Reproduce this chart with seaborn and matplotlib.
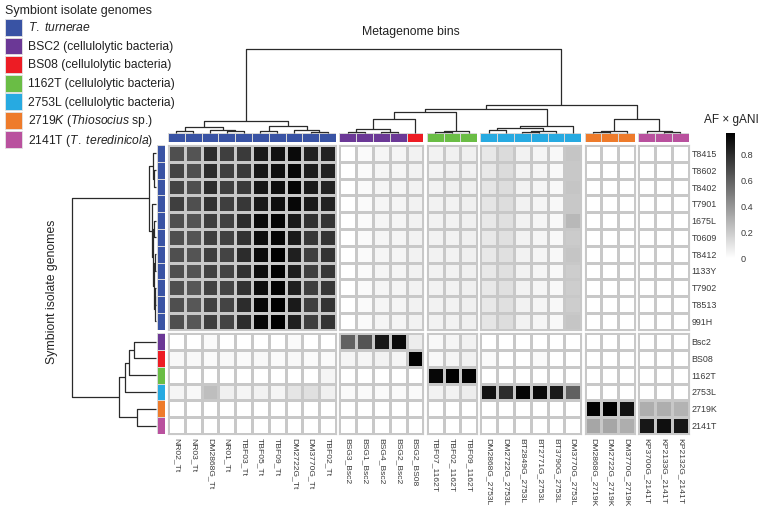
import numpy as np
import pandas as pd
import matplotlib as mpl
mpl.use('Agg')
import matplotlib.pyplot as plt
from matplotlib.colors import ListedColormap
from matplotlib.patches import Patch
import seaborn as sns

# ---------------- data ----------------
col_labels = ['NR02_Tt', 'NR03_Tt', 'DM2868G_Tt', 'NR01_Tt', 'TBF03_Tt', 'TBF05_Tt', 'TBF09_Tt',
              'DM2722G_Tt', 'DM3770G_Tt', 'TBF02_Tt',
              'BSG3_Bsc2', 'BSG1_Bsc2', 'BSG4_Bsc2', 'BSG2_Bsc2', 'BSG2_BS08',
              'TBF07_1162T', 'TBF02_1162T', 'TBF09_1162T',
              'DM2868G_2753L', 'DM2722G_2753L', 'BT2849G_2753L', 'BT2771G_2753L', 'BT3790G_2753L',
              'DM3770G_2753L',
              'DM2868G_2719K', 'DM2722G_2719K', 'DM3770G_2719K',
              'KP3700G_2141T', 'KP2133G_2141T', 'KP2132G_2141T']
col_group_sizes = [10, 5, 3, 6, 3, 3]
col_genome = ['tt'] * 10 + ['bsc2'] * 4 + ['bs08'] + ['1162t'] * 3 + ['2753l'] * 6 + ['2719k'] * 3 + ['2141t'] * 3

row_labels = ['T8415', 'T8602', 'T8402', 'T7901', '1675L', 'T0609', 'T8412', '1133Y', 'T7902', 'T8513', '991H',
              'Bsc2', 'BS08', '1162T', '2753L', '2719K', '2141T']
row_group_sizes = [11, 6]
row_genome = ['tt'] * 11 + ['bsc2', 'bs08', '1162t', '2753l', '2719k', '2141t']

genome_keys = ['tt', 'bsc2', 'bs08', '1162t', '2753l', '2719k', '2141t']
genome_colors = ['#3953a4', '#6b3896', '#ed1c24', '#6abd45', '#27aae1', '#ee7b2b', '#b9519e']
legend_labels = [r'$\it{T.\ turnerae}$',
                 'BSC2 (cellulolytic bacteria)',
                 'BS08 (cellulolytic bacteria)',
                 '1162T (cellulolytic bacteria)',
                 '2753L (cellulolytic bacteria)',
                 r'$\it{2719K}$ ($\it{Thiosocius}$ sp.)',
                 r'2141T ($\it{T.\ teredinicola}$)']

# AF x gANI, one row per symbiont isolate genome (columns in the order of col_labels)
z5 = [0.0] * 5
z3 = [0.0] * 3
z6 = [0.0] * 6
af_gani = [
    [0.67, 0.65, 0.80, 0.73, 0.75, 0.87, 0.90, 0.93, 0.84, 0.84] + [0.0, 0.02, 0.04, 0.04, 0.05] + [0.05, 0.06, 0.06] + [0.09, 0.14, 0.05, 0.04, 0.03, 0.22] + z3 + z3,
    [0.71, 0.67, 0.80, 0.73, 0.75, 0.88, 0.91, 0.94, 0.86, 0.84] + [0.0, 0.02, 0.04, 0.04, 0.05] + [0.05, 0.06, 0.06] + [0.09, 0.14, 0.05, 0.04, 0.03, 0.21] + z3 + z3,
    [0.71, 0.67, 0.80, 0.73, 0.75, 0.88, 0.92, 0.95, 0.87, 0.84] + [0.0, 0.02, 0.04, 0.04, 0.05] + [0.05, 0.06, 0.06] + [0.10, 0.13, 0.05, 0.04, 0.03, 0.22] + z3 + z3,
    [0.73, 0.67, 0.78, 0.73, 0.76, 0.87, 0.91, 0.94, 0.87, 0.84] + [0.0, 0.02, 0.04, 0.04, 0.05] + [0.05, 0.05, 0.06] + [0.10, 0.13, 0.05, 0.04, 0.03, 0.21] + z3 + z3,
    [0.67, 0.65, 0.73, 0.72, 0.80, 0.93, 0.95, 0.87, 0.78, 0.77] + [0.0, 0.02, 0.04, 0.04, 0.05] + [0.05, 0.05, 0.06] + [0.09, 0.12, 0.05, 0.04, 0.03, 0.27] + z3 + z3,
    [0.67, 0.65, 0.73, 0.72, 0.78, 0.92, 0.95, 0.87, 0.76, 0.77] + [0.0, 0.02, 0.04, 0.04, 0.05] + [0.05, 0.05, 0.06] + [0.09, 0.12, 0.05, 0.04, 0.03, 0.20] + z3 + z3,
    [0.67, 0.65, 0.73, 0.71, 0.80, 0.93, 0.97, 0.85, 0.73, 0.77] + [0.0, 0.02, 0.04, 0.04, 0.05] + [0.05, 0.05, 0.06] + [0.09, 0.12, 0.05, 0.04, 0.03, 0.22] + z3 + z3,
    [0.67, 0.65, 0.72, 0.71, 0.78, 0.92, 0.96, 0.85, 0.73, 0.76] + [0.0, 0.02, 0.04, 0.04, 0.05] + [0.05, 0.05, 0.06] + [0.09, 0.12, 0.05, 0.04, 0.03, 0.19] + z3 + z3,
    [0.67, 0.64, 0.72, 0.71, 0.78, 0.92, 0.96, 0.85, 0.73, 0.76] + [0.0, 0.02, 0.04, 0.04, 0.05] + [0.05, 0.05, 0.06] + [0.09, 0.12, 0.05, 0.04, 0.03, 0.19] + z3 + z3,
    [0.67, 0.64, 0.72, 0.71, 0.80, 0.94, 0.97, 0.87, 0.73, 0.77] + [0.0, 0.02, 0.04, 0.04, 0.05] + [0.05, 0.05, 0.06] + [0.09, 0.12, 0.05, 0.04, 0.03, 0.19] + z3 + z3,
    [0.67, 0.64, 0.73, 0.71, 0.80, 0.94, 0.97, 0.85, 0.73, 0.77] + [0.0, 0.02, 0.04, 0.04, 0.05] + [0.05, 0.05, 0.06] + [0.10, 0.13, 0.05, 0.04, 0.03, 0.22] + z3 + z3,
    [0.0, 0.0, 0.02, 0.0, 0.0, 0.0, 0.0, 0.02, 0.0, 0.0] + [0.60, 0.65, 0.88, 0.93, 0.07] + [0.03, 0.04, 0.05] + z6 + z3 + z3,
    [0.03, 0.03, 0.02, 0.03, 0.02, 0.03, 0.02, 0.03, 0.02, 0.02] + [0.04, 0.04, 0.05, 0.04, 0.96] + [0.03, 0.04, 0.05] + [0.02, 0.0, 0.0, 0.02, 0.0, 0.0] + z3 + z3,
    [0.0, 0.0, 0.0, 0.0, 0.0, 0.0, 0.0, 0.0, 0.0, 0.04] + z5 + [0.94, 0.97, 0.96] + z6 + z3 + z3,
    [0.04, 0.03, 0.25, 0.06, 0.04, 0.05, 0.04, 0.10, 0.12, 0.06] + [0.02, 0.02, 0.02, 0.02, 0.02] + [0.05, 0.05, 0.07] + [0.90, 0.80, 0.95, 0.93, 0.87, 0.60] + z3 + z3,
    [0.0] * 10 + z5 + z3 + z6 + [0.96, 0.97, 0.90] + [0.31, 0.31, 0.29],
    [0.0] * 10 + z5 + z3 + z6 + [0.34, 0.34, 0.31] + [0.88, 0.91, 0.88],
]

# hierarchical clustering: (node, left, right, height)
col_merges = [
    ('c1', 'NR02_Tt', 'NR03_Tt', 2.5), ('c2', 'NR01_Tt', 'TBF03_Tt', 2.0),
    ('c3', 'DM2868G_Tt', 'c2', 3.5), ('c4', 'c1', 'c3', 5.7),
    ('c5', 'TBF05_Tt', 'TBF09_Tt', 2.0), ('c6', 'DM3770G_Tt', 'TBF02_Tt', 1.5),
    ('c7', 'DM2722G_Tt', 'c6', 3.0), ('c8', 'c5', 'c7', 6.7), ('c9', 'c4', 'c8', 12.3),
    ('c10', 'BSG3_Bsc2', 'BSG1_Bsc2', 1.5), ('c11', 'BSG4_Bsc2', 'BSG2_Bsc2', 1.5),
    ('c12', 'c10', 'c11', 4.5), ('c13', 'c12', 'BSG2_BS08', 14.0),
    ('c14', 'TBF07_1162T', 'TBF02_1162T', 1.2), ('c15', 'c14', 'TBF09_1162T', 1.8),
    ('c16', 'c13', 'c15', 21.3),
    ('c17', 'DM2868G_2753L', 'DM2722G_2753L', 3.0), ('c18', 'BT2849G_2753L', 'BT2771G_2753L', 1.5),
    ('c19', 'c18', 'BT3790G_2753L', 2.2), ('c20', 'c17', 'c19', 4.7),
    ('c21', 'c20', 'DM3770G_2753L', 6.7), ('c22', 'c16', 'c21', 24.0),
    ('c23', 'DM2868G_2719K', 'DM2722G_2719K', 1.5), ('c24', 'c23', 'DM3770G_2719K', 2.0),
    ('c25', 'KP2133G_2141T', 'KP2132G_2141T', 1.5), ('c26', 'KP3700G_2141T', 'c25', 2.0),
    ('c27', 'c24', 'c26', 14.0), ('c28', 'c22', 'c27', 28.0), ('c29', 'c9', 'c28', 84.7),
]
row_merges = [
    ('r1', 'T8602', 'T8402', 2.0), ('r2', 'T8415', 'r1', 3.5),
    ('r3', '1675L', 'T0609', 2.0),
    ('r5', 'T8412', '1133Y', 1.0), ('r6', 'T7902', 'T8513', 1.0),
    ('r7', 'r6', '991H', 1.5), ('r8', 'r5', 'r7', 2.0),
    ('r4', 'r3', 'r8', 3.0), ('r9', 'T7901', 'r4', 4.5), ('r10', 'r2', 'r9', 7.0),
    ('r11', 'Bsc2', 'BS08', 22.0), ('r12', 'r11', '1162T', 27.0),
    ('r13', 'r12', '2753L', 31.0), ('r14', '2719K', '2141T', 19.0),
    ('r15', 'r13', 'r14', 37.0), ('r16', 'r10', 'r15', 85.0),
]

df = pd.DataFrame(af_gani, index=row_labels, columns=col_labels)

# ---------------- style ----------------
sns.set_style('white')
plt.rcParams['font.family'] = ['Liberation Sans', 'DejaVu Sans']
plt.rcParams['mathtext.fontset'] = 'custom'
plt.rcParams['mathtext.rm'] = 'Liberation Sans'
plt.rcParams['mathtext.it'] = 'Liberation Sans:italic'

W, H = 760, 509
fig = plt.figure(figsize=(W / 100, H / 100), dpi=100)


def px_axes(x0, y0, x1, y1):
    return fig.add_axes([x0 / W, 1 - y1 / H, (x1 - x0) / W, (y1 - y0) / H])


U = 16.8          # pixels per cell
GAP = 0.2         # gap between groups, in cells
HX0, HY0 = 168, 145
GRID = '#c8c8c8'
TICK_C = '#3a3a3a'
VMAX = 0.97
cmap = sns.blend_palette(['white', 'black'], as_cmap=True)
gcmap = ListedColormap(genome_colors)


def starts(sizes):
    return [sum(sizes[:i]) + i * GAP for i in range(len(sizes))]


col_starts = starts(col_group_sizes)
row_starts = starts(row_group_sizes)
col_total = col_starts[-1] + col_group_sizes[-1]
row_total = row_starts[-1] + row_group_sizes[-1]

cax = px_axes(726, 133, 735, 258)

# ---------------- heatmap blocks ----------------
c_off = np.cumsum([0] + col_group_sizes)
r_off = np.cumsum([0] + row_group_sizes)
for ri, (rs, rn) in enumerate(zip(row_starts, row_group_sizes)):
    for ci, (cs, cn) in enumerate(zip(col_starts, col_group_sizes)):
        ax = px_axes(HX0 + U * cs, HY0 + U * rs, HX0 + U * (cs + cn), HY0 + U * (rs + rn))
        block = df.iloc[r_off[ri]:r_off[ri + 1], c_off[ci]:c_off[ci + 1]]
        first = ri == 0 and ci == 0
        sns.heatmap(block, ax=ax, cmap=cmap, vmin=0, vmax=VMAX, linewidths=0.8, linecolor=GRID,
                    cbar=first, cbar_ax=cax if first else None,
                    cbar_kws={'ticks': [0, 0.2, 0.4, 0.6, 0.8]} if first else None,
                    xticklabels=(ri == len(row_group_sizes) - 1),
                    yticklabels=(ci == len(col_group_sizes) - 1))
        for s in ax.spines.values():
            s.set_visible(True)
            s.set_color(GRID)
            s.set_linewidth(0.8)
        ax.tick_params(length=0, labelsize=6.4, labelcolor=TICK_C)
        if ri == len(row_group_sizes) - 1:
            ax.tick_params(axis='x', pad=3, labelsize=6.1)
            for lab in ax.get_xticklabels():
                lab.set_rotation(270)
        if ci == len(col_group_sizes) - 1:
            ax.yaxis.tick_right()
            ax.tick_params(axis='y', pad=2, length=0)
            for lab in ax.get_yticklabels():
                lab.set_rotation(0)
        if first:
            cbar = ax.collections[0].colorbar
            cbar.set_ticks([0, 0.2, 0.4, 0.6, 0.8], labels=['0', '0.2', '0.4', '0.6', '0.8'])
            cbar.outline.set_visible(False)
            cax.tick_params(length=0, labelsize=6.6, labelcolor=TICK_C, pad=4)
        ax.set_xlabel('')
        ax.set_ylabel('')

# ---------------- colour side bars ----------------
col_codes = [genome_keys.index(g) for g in col_genome]
row_codes = [genome_keys.index(g) for g in row_genome]
for ci, (cs, cn) in enumerate(zip(col_starts, col_group_sizes)):
    ax = px_axes(HX0 + U * cs, 133.5, HX0 + U * (cs + cn), 142)
    sns.heatmap(pd.DataFrame([col_codes[c_off[ci]:c_off[ci + 1]]]), ax=ax, cmap=gcmap,
                vmin=-0.5, vmax=len(genome_keys) - 0.5, cbar=False, linewidths=0.6,
                linecolor='#d8d8d8', xticklabels=False, yticklabels=False)
for ri, (rs, rn) in enumerate(zip(row_starts, row_group_sizes)):
    ax = px_axes(156.5, HY0 + U * rs, 165, HY0 + U * (rs + rn))
    sns.heatmap(pd.DataFrame(row_codes[r_off[ri]:r_off[ri + 1]]), ax=ax, cmap=gcmap,
                vmin=-0.5, vmax=len(genome_keys) - 0.5, cbar=False, linewidths=0.6,
                linecolor='#d8d8d8', xticklabels=False, yticklabels=False)


# ---------------- dendrograms ----------------
def leaf_positions(labels, sizes, gstarts):
    pos = {}
    k = 0
    for gs, n in zip(gstarts, sizes):
        for j in range(n):
            pos[labels[k]] = gs + j + 0.5
            k += 1
    return pos


def draw_dendrogram(ax, merges, pos, vertical):
    pos = dict(pos)
    hgt = {k: 0.0 for k in pos}
    for node, a, b, h in merges:
        xs = [pos[a], pos[a], pos[b], pos[b]]
        ys = [hgt[a], h, h, hgt[b]]
        if vertical:
            ax.plot(xs, ys, color='#2a2a2a', lw=0.9, clip_on=False, solid_capstyle='butt')
        else:
            ax.plot(ys, xs, color='#2a2a2a', lw=0.9, clip_on=False, solid_capstyle='butt')
        pos[node] = (pos[a] + pos[b]) / 2
        hgt[node] = h


dax = px_axes(HX0, 49, HX0 + U * col_total, 133)
draw_dendrogram(dax, col_merges, leaf_positions(col_labels, col_group_sizes, col_starts), True)
dax.set_xlim(0, col_total)
dax.set_ylim(0, col_merges[-1][3])
dax.axis('off')

rax = px_axes(72, HY0, 156, HY0 + U * row_total)
draw_dendrogram(rax, row_merges, leaf_positions(row_labels, row_group_sizes, row_starts), False)
rax.set_ylim(row_total, 0)
rax.set_xlim(row_merges[-1][3], 0)
rax.axis('off')

# ---------------- titles and legend ----------------
fig.text(411 / W, 1 - 32 / H, 'Metagenome bins', ha='center', va='center', fontsize=8.8, color='#222222')
fig.text(52 / W, 1 - 292 / H, 'Symbiont isolate genomes', ha='center', va='center', rotation=90,
         fontsize=8.8, color='#222222')
fig.text(731 / W, 1 - 120 / H, 'AF × gANI', ha='center', va='center', fontsize=8.5, color='#222222')

handles = [Patch(facecolor=c, edgecolor='#e4e4e4', lw=0.6) for c in genome_colors]
leg = fig.legend(handles, legend_labels, loc='upper left', bbox_to_anchor=(0.003, 0.995), frameon=False,
                 title='Symbiont isolate genomes', title_fontsize=9, fontsize=8.7,
                 handlelength=1.45, handleheight=1.75, handletextpad=0.45, labelspacing=0.16,
                 borderaxespad=0, borderpad=0.2, alignment='left')
for t in leg.get_texts():
    t.set_color('#222222')
leg.get_title().set_color('#222222')

fig.savefig('out.png', dpi=100)
